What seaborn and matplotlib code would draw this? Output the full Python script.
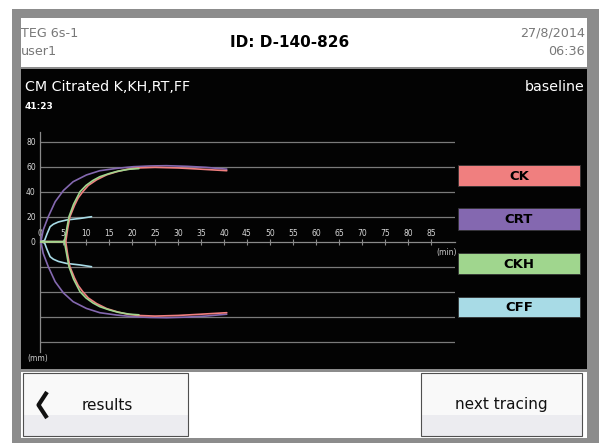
import matplotlib
matplotlib.use("Agg")
import matplotlib.pyplot as plt
from matplotlib.patches import Rectangle
from matplotlib.lines import Line2D
import seaborn as sns
import pandas as pd

W, H = 599, 443

# --- tracings (time in min, amplitude in mm, upper half; lower half is the mirror) ---
ck_t = [0, 5.6, 6.0, 6.5, 7.5, 8.3, 9.3, 10.5, 12.3, 14.5, 16.7, 19, 21.3, 25, 30, 35, 40.6]
ck_a = [0, 0, 10, 20, 29, 35, 40, 45, 49.5, 53.5, 56, 58, 59, 59.5, 59, 58, 56.8]

ckh_t = [0, 5.3, 5.7, 6.3, 7.3, 8.7, 10, 11.5, 13, 15, 17, 19.5, 21.5]
ckh_a = [0, 0, 8, 20, 30, 40, 45, 49, 52, 54.5, 56.5, 58, 58.5]

crt_t = [0, 0.3, 0.7, 1.8, 3.3, 5.1, 7.2, 10.1, 13, 16.7, 20.3, 24, 27.5, 32, 36, 40.6]
crt_a = [0, 2, 9.4, 20, 32, 41, 48, 53.4, 56.8, 58.7, 60, 60.6, 60.8, 60.3, 59.5, 58]

cff_t = [0, 1.0, 1.5, 2.2, 2.9, 4.0, 5.8, 8.7, 11.2]
cff_a = [0, 1, 6, 12, 14, 15.8, 17.4, 18.6, 20]

tests = ["CK", "CRT", "CKH", "CFF"]
colors = ["#f07f7f", "#8468b0", "#a0d68e", "#a8dbe6"]
x_ticks = list(range(0, 90, 5))
y_ticks = [0, 20, 40, 60, 80]
grid_levels = [-80, -60, -40, -20, 20, 40, 60, 80]

curves = {"CK": (ck_t, ck_a), "CRT": (crt_t, crt_a), "CKH": (ckh_t, ckh_a), "CFF": (cff_t, cff_a)}
rows = []
for name, (ts, amps) in curves.items():
    for t, a in zip(ts, amps):
        rows.append({"test": name, "side": "up", "time": t, "amp": a})
    for t, a in zip(ts, amps):
        rows.append({"test": name, "side": "down", "time": t, "amp": -a})
df = pd.DataFrame(rows)

sns.set_theme(style="dark")
plt.rcParams['font.family'] = ['DejaVu Sans']

fig = plt.figure(figsize=(W / 100, H / 100), dpi=100)
fig.patch.set_facecolor("white")

# screen chrome, drawn in pixel coordinates
bg = fig.add_axes([0, 0, 1, 1])
bg.set_xlim(0, W)
bg.set_ylim(H, 0)
bg.axis("off")


def rect(x0, y0, x1, y1, fc, ec="none", lw=0):
    bg.add_patch(Rectangle((x0, y0), x1 - x0, y1 - y0, facecolor=fc, edgecolor=ec, linewidth=lw))


rect(12, 9, W + 2, H + 2, "#8c8c8c")
rect(21, 18, 587, 67, "white")
rect(21, 69, 587, 369, "#030303")
rect(21, 372, 587, 438, "white")

# header
bg.text(21, 33, "TEG 6s-1", color="#787878", fontsize=9.2, va="center", ha="left")
bg.text(21, 51, "user1", color="#787878", fontsize=9.2, va="center", ha="left")
bg.text(290, 42, "ID: D-140-826", color="black", fontsize=11, fontweight="bold", va="center", ha="center")
bg.text(585, 33, "27/8/2014", color="#787878", fontsize=9.2, va="center", ha="right")
bg.text(585, 51, "06:36", color="#787878", fontsize=9.2, va="center", ha="right")

# black panel texts
bg.text(25, 87, "CM Citrated K,KH,RT,FF", color="white", fontsize=10.3, va="center", ha="left")
bg.text(585, 87, "baseline", color="white", fontsize=10.3, va="center", ha="right")
bg.text(25, 106, "41:23", color="white", fontsize=6.5, fontweight="bold", va="center", ha="left")
bg.text(457, 252, "(min)", color="#cccccc", fontsize=5.5, va="center", ha="right")
bg.text(27, 358, "(mm)", color="#cccccc", fontsize=5.5, va="center", ha="left")

# legend boxes
box_y = [(165, 186), (208, 230), (253, 274), (297, 317)]
for name, col, (y0, y1) in zip(tests, colors, box_y):
    rect(458, y0, 580, y1, col, ec="#333333", lw=0.6)
    bg.text(519, (y0 + y1) / 2 + 0.5, name, color="black", fontsize=9.5, fontweight="bold",
            va="center", ha="center")

# buttons
for x0, x1, label, tx in [(23, 188, "results", 107), (421, 582, "next tracing", 501)]:
    rect(x0, 373, x1, 436, "#f9f9f9")
    rect(x0, 415, x1, 436, "#ececf0")
    rect(x0, 373, x1, 436, "none", ec="#505050", lw=0.8)
    bg.text(tx, 405, label, color="#111111", fontsize=11, va="center", ha="center")
bg.add_line(Line2D([47, 38.5, 47], [392, 405, 418], color="#111111", lw=3.0, solid_capstyle="butt"))

# chart
ax = fig.add_axes([40 / W, 1 - 352 / H, 415 / W, 220 / H])
ax.set_facecolor("none")
ax.set_xlim(0, 415 / 4.6)
ax.set_ylim(-(352 - 241.7) / 1.25, (241.7 - 132) / 1.25)

for lv in grid_levels:
    ax.axhline(lv, color="#7a7a7a", lw=0.9, zorder=1)

sns.lineplot(data=df, x="time", y="amp", hue="test", units="side", estimator=None, sort=False,
             hue_order=["CRT", "CFF", "CK", "CKH"], palette=dict(zip(tests, colors)),
             lw=1.2, legend=False, ax=ax, zorder=3)

for s in ["bottom", "right"]:
    ax.spines[s].set_visible(False)
ax.spines["left"].set_color("#8a8a8a")
ax.spines["left"].set_linewidth(0.9)
ax.spines["top"].set_position(("data", 0))
ax.spines["top"].set_color("#8a8a8a")
ax.spines["top"].set_linewidth(0.9)
ax.spines["top"].set_bounds(0, 415 / 4.6)
ax.xaxis.tick_top()
ax.set_xticks(x_ticks)
ax.set_xticklabels([str(v) for v in x_ticks])
ax.set_yticks(y_ticks)
ax.set_yticklabels([str(v) for v in y_ticks])
ax.tick_params(axis="x", direction="inout", length=4, width=0.8, color="#8a8a8a",
               labelsize=5.5, labelcolor="#d8d8d8", pad=1)
ax.tick_params(axis="y", length=0, labelsize=5.5, labelcolor="#d8d8d8", pad=3)
ax.grid(False)
ax.set_xlabel("")
ax.set_ylabel("")

fig.savefig("out.png", dpi=100, facecolor="white")
